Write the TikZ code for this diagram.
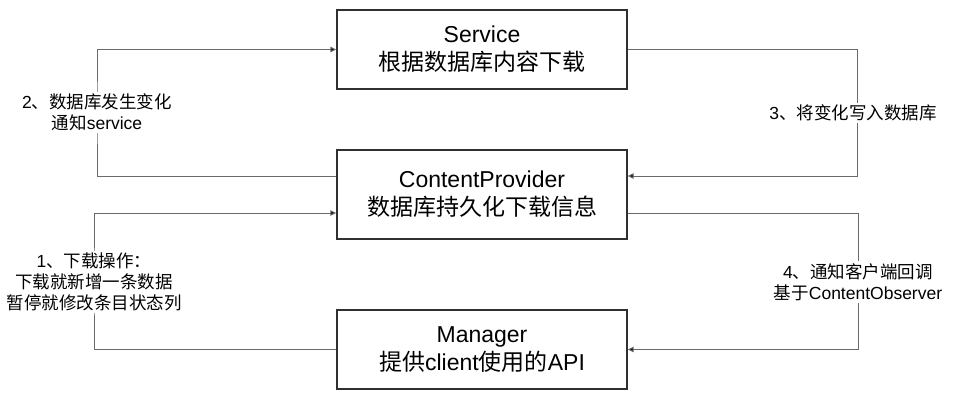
\documentclass[tikz,border=0pt]{standalone}
\usepackage{fontspec}
\setmainfont{Liberation Sans}
\newfontfamily\cjk{Noto Sans CJK SC}
\usetikzlibrary{arrows.meta}
\definecolor{boxline}{HTML}{303030}
\definecolor{conline}{HTML}{6A6A6A}
\tikzset{
  box/.style={draw=boxline, line width=1.4pt, minimum width=290pt, minimum height=79pt,
    align=center, font=\fontsize{23}{28}\selectfont, inner sep=0pt},
  conn/.style={draw=conline, line width=1pt, -{Triangle[length=6pt,width=5.5pt,fill=black]}},
  lbl/.style={fill=white, align=center, font=\fontsize{17.5}{21}\selectfont, inner sep=2pt, text=black}
}
\begin{document}
\begin{tikzpicture}[x=1pt,y=-1pt]
\useasboundingbox (0,0) rectangle (965,410);
\node[box] (svc) at (482,49.5) {Service\\{\cjk 根据数据库内容下载}};
\node[box, minimum height=89pt] (cp) at (482,194.5) {ContentProvider\\{\cjk 数据库持久化下载信息}};
\node[box] (mgr) at (482,349.5) {Manager\\{\cjk 提供}client{\cjk 使用的}API};
\coordinate (c2) at (97,112.5);
\coordinate (c3) at (857,113);
\coordinate (c1) at (94,282);
\coordinate (c4) at (858,282);
\draw[conn] ([yshift=18.5pt]cp.west) -| (c2) |- (svc.west);
\draw[conn] (svc.east) -| (c3) |- ([yshift=18.5pt]cp.east);
\draw[conn] (mgr.west) -| (c1) |- ([yshift=-18.5pt]cp.west);
\draw[conn] ([yshift=-18.5pt]cp.east) -| (c4) |- (mgr.east);
\node[lbl] (l2) at (c2) {2{\cjk 、数据库发生变化}\\{\cjk 通知}service};
\node[lbl] (l3) at ([xshift=-4pt]c3) {3{\cjk 、将变化写入数据库}};
\node[lbl] (l1) at (c1) {1{\cjk 、下载操作：}\\{\cjk 下载就新增一条数据}\\{\cjk 暂停就修改条目状态列}};
\node[lbl] (l4) at (c4) {4{\cjk 、通知客户端回调}\\{\cjk 基于}ContentObserver};
\end{tikzpicture}
\end{document}
